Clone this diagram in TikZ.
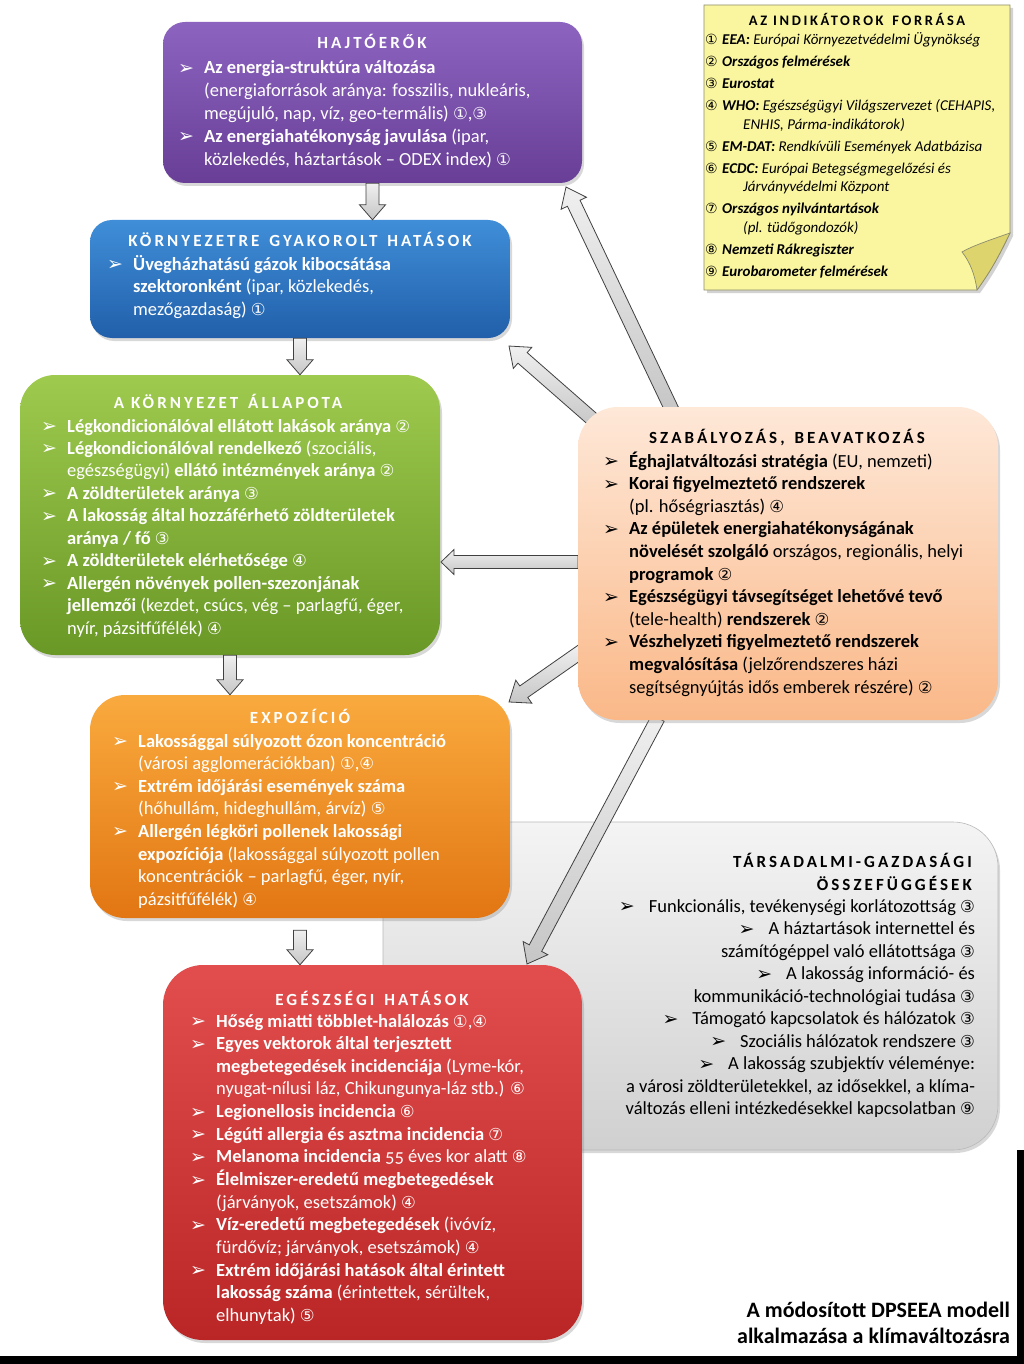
\documentclass[tikz,border=0pt]{standalone}
\usepackage{fontspec}
\usepackage{graphicx}
\setmainfont{Carlito}
\newfontfamily\dv{DejaVu Sans}
\newfontfamily\ttlfont[LetterSpace=18]{Carlito}
\usetikzlibrary{calc,shadows}

\definecolor{purT}{RGB}{140,100,192}
\definecolor{purB}{RGB}{104,62,150}
\definecolor{bluT}{RGB}{64,142,216}
\definecolor{bluB}{RGB}{33,95,170}
\definecolor{grnT}{RGB}{158,202,78}
\definecolor{grnB}{RGB}{106,152,38}
\definecolor{orgT}{RGB}{249,170,62}
\definecolor{orgB}{RGB}{226,118,18}
\definecolor{redT}{RGB}{226,78,78}
\definecolor{redB}{RGB}{186,38,38}
\definecolor{salT}{RGB}{254,232,216}
\definecolor{salB}{RGB}{250,184,136}
\definecolor{gryT}{RGB}{244,244,244}
\definecolor{gryB}{RGB}{208,208,208}
\definecolor{notefill}{RGB}{250,246,160}
\definecolor{noteflap}{RGB}{222,212,110}
\definecolor{noteedge}{RGB}{140,140,110}

\newcommand\bul{{\dv\fontsize{19}{19}\selectfont\raisebox{-0.5pt}{➢}}}
\newcommand\cn[1]{{\dv\fontsize{16.5}{16.5}\selectfont #1}}
\newcommand\cnn[1]{{\dv\fontsize{14}{14}\selectfont #1}}
\newcommand\BL[1]{\hbox{\hbox to 26pt{\bul\hss}#1}}
\newcommand\CL[1]{\hbox{\hskip26pt #1}}
\newcommand\RL[1]{\hbox to 0pt{\hss #1}}
\newcommand\NL[2]{\hbox{\hbox to 17pt{\cnn{#1}\hss}#2}}
\newcommand\NC[1]{\hbox{\hskip38pt #1}}
\newcommand\bi[1]{\textbf{\textit{#1}}}
\newcommand\wsp{\ \hskip3pt}

\newcommand\blockarrow[5]{%
  \path[blockarr] let \p1=(#1), \p2=(#2),
    \n1={atan2(\y2-\y1,\x2-\x1)}, \n2={veclen(\x2-\x1,\y2-\y1)} in
    {[shift={(\p1)}, rotate=\n1]
     (0pt,-#3pt) -- ({\n2-#5pt},-#3pt) -- ({\n2-#5pt},-#4pt) -- (\n2,0pt)
     -- ({\n2-#5pt},#4pt) -- ({\n2-#5pt},#3pt) -- (0pt,#3pt) -- cycle};
}

\tikzset{
  box/.style={rectangle, inner sep=0pt, draw=none,
    drop shadow={shadow xshift=2pt, shadow yshift=-3pt, opacity=0.3}},
  ttl/.style={anchor=base, inner sep=0pt, font=\ttlfont\bfseries\fontsize{17}{17}\selectfont},
  txt/.style={anchor=base west, inner sep=0pt, font=\fontsize{18.5}{22.7}\selectfont},
  blockarr/.style={draw=black!75, line width=0.8pt, top color=gray!12, bottom color=gray!45},
}

\begin{document}
\begin{tikzpicture}[x=1pt,y=-1pt]
\useasboundingbox (0,0) rectangle (1024,1364);
\fill[white] (0,0) rectangle (1024,1364);

% grey background box
\node[box, rounded corners=45pt, top color=gryT, bottom color=gryB, draw=gray!55, line width=0.6pt,
  minimum width=615pt, minimum height=328pt] (grey) at (690.5,986) {};

% arrows from regulation box
\coordinate (aP1) at (672,410); \coordinate (aP2) at (566,187);
\coordinate (aB1) at (598,424); \coordinate (aB2) at (509,346);
\coordinate (aG1) at (578,562); \coordinate (aG2) at (441,562);
\coordinate (aO1) at (582,651); \coordinate (aO2) at (509,702);
\coordinate (aR1) at (658,718); \coordinate (aR2) at (527,964);
\blockarrow{aP1}{aP2}{7}{14}{18}
\blockarrow{aB1}{aB2}{7}{14}{18}
\blockarrow{aG1}{aG2}{6.5}{12.5}{13}
\blockarrow{aO1}{aO2}{7}{14}{18}
\blockarrow{aR1}{aR2}{7}{14}{18}

% boxes
\node[box, rounded corners=22pt, top color=purT, bottom color=purB,
  minimum width=419pt, minimum height=161pt] (purple) at (372.5,102.5) {};
\node[box, rounded corners=22pt, top color=bluT, bottom color=bluB,
  minimum width=420pt, minimum height=118pt] (blue) at (300,279) {};
\node[box, rounded corners=35pt, top color=grnT, bottom color=grnB,
  minimum width=420pt, minimum height=280pt] (green) at (230,515) {};
\node[box, rounded corners=35pt, top color=orgT, bottom color=orgB,
  minimum width=420pt, minimum height=223pt] (orange) at (300,806.5) {};
\node[box, rounded corners=40pt, top color=redT, bottom color=redB,
  minimum width=419pt, minimum height=375pt] (red) at (372.5,1152.5) {};
\node[box, rounded corners=40pt, top color=salT, bottom color=salB,
  minimum width=420pt, minimum height=313pt] (salmon) at (788,563.5) {};

% vertical arrows
\blockarrow{purple.south}{purple.south |- blue.north}{6.5}{13}{15}
\blockarrow{blue.south}{blue.south |- green.north}{6.5}{13}{15}
\blockarrow{green.south}{green.south |- orange.north}{6.5}{13}{15}
\blockarrow{[yshift=-12pt]orange.south}{orange.south |- red.north}{6.5}{13}{15}

% note
\path[fill=notefill, draw=noteedge, line width=0.7pt,
  drop shadow={shadow xshift=3pt, shadow yshift=-3pt, opacity=0.35}]
  (704,5) -- (1010,5) -- (1010,233) .. controls (998,258) and (990,272) .. (977,290)
  -- (704,290) -- cycle;
\path[fill=noteflap, draw=noteedge, line width=0.7pt]
  (1010,233) .. controls (990,240) and (972,246) .. (962,252)
  .. controls (970,262) and (975,275) .. (977,290)
  .. controls (990,272) and (998,258) .. (1010,233) -- cycle;

% ---- texts ----
\begin{scope}[white]
\node[ttl] (purH) at (372,49) {HAJTÓERŐK};
\node[txt] (purX) at (178,74) {\vtop{\baselineskip=22.8pt
  \BL{\textbf{Az energia-struktúra változása}}
  \CL{(energiaforrások aránya: fosszilis, nukleáris,}
  \CL{megújuló, nap, víz, geo-termális) \cn{①},\cn{③}}
  \BL{\textbf{Az energiahatékonyság javulása} (ipar,}
  \CL{közlekedés, háztartások – ODEX index) \cn{①}}}};

\node[ttl] (bluH) at (300,247) {KÖRNYEZETRE\wsp GYAKOROLT\wsp HATÁSOK};
\node[txt] (bluX) at (107,270) {\vtop{\baselineskip=22.6pt
  \BL{\textbf{Üvegházhatású gázok kibocsátása}}
  \CL{\textbf{szektoronként} (ipar, közlekedés,}
  \CL{mezőgazdaság) \cn{①}}}};

\node[ttl] (grnH) at (228,408) {A KÖRNYEZET\wsp ÁLLAPOTA};
\node[txt] (grnX) at (41,432) {\vtop{\baselineskip=22.45pt
  \BL{\textbf{Légkondicionálóval ellátott lakások aránya} \cn{②}}
  \BL{\textbf{Légkondicionálóval rendelkező} (szociális,}
  \CL{egészségügyi) \textbf{ellátó intézmények aránya} \cn{②}}
  \BL{\textbf{A zöldterületek aránya} \cn{③}}
  \BL{\textbf{A lakosság által hozzáférhető zöldterületek}}
  \CL{\textbf{aránya / fő} \cn{③}}
  \BL{\textbf{A zöldterületek elérhetősége} \cn{④}}
  \BL{\textbf{Allergén növények pollen-szezonjának}}
  \CL{\textbf{jellemzői} (kezdet, csúcs, vég – parlagfű, éger,}
  \CL{nyír, pázsitfűfélék) \cn{④}}}};

\node[ttl] (orgH) at (300,723) {EXPOZÍCIÓ};
\node[txt] (orgX) at (112,747) {\vtop{\baselineskip=22.6pt
  \BL{\textbf{Lakossággal súlyozott ózon koncentráció}}
  \CL{(városi agglomerációkban) \cn{①},\cn{④}}
  \BL{\textbf{Extrém időjárási események száma}}
  \CL{(hőhullám, hideghullám, árvíz) \cn{⑤}}
  \BL{\textbf{Allergén légköri pollenek lakossági}}
  \CL{\textbf{expozíciója} (lakossággal súlyozott pollen}
  \CL{koncentrációk – parlagfű, éger, nyír,}
  \CL{pázsitfűfélék) \cn{④}}}};

\node[ttl] (redH) at (372,1005) {EGÉSZSÉGI\wsp HATÁSOK};
\node[txt] (redX) at (190,1027) {\vtop{\baselineskip=22.65pt
  \BL{\textbf{Hőség miatti többlet-halálozás} \cn{①},\cn{④}}
  \BL{\textbf{Egyes vektorok által terjesztett}}
  \CL{\textbf{megbetegedések incidenciája} (Lyme-kór,}
  \CL{nyugat-nílusi láz, Chikungunya-láz stb.) \cn{⑥}}
  \BL{\textbf{Legionellosis incidencia} \cn{⑥}}
  \BL{\textbf{Légúti allergia és asztma incidencia} \cn{⑦}}
  \BL{\textbf{Melanoma incidencia} {\addfontfeatures{Numbers=OldStyle}55} éves kor alatt \cn{⑧}}
  \BL{\textbf{Élelmiszer-eredetű megbetegedések}}
  \CL{(járványok, esetszámok) \cn{④}}
  \BL{\textbf{Víz-eredetű megbetegedések} (ivóvíz,}
  \CL{fürdővíz; járványok, esetszámok) \cn{④}}
  \BL{\textbf{Extrém időjárási hatások által érintett}}
  \CL{\textbf{lakosság száma} (érintettek, sérültek,}
  \CL{elhunytak) \cn{⑤}}}};
\end{scope}

\begin{scope}[black]
\node[ttl] (salH) at (787,443) {SZABÁLYOZÁS,\wsp BEAVATKOZÁS};
\node[txt] (salX) at (603,467) {\vtop{\baselineskip=22.6pt
  \BL{\textbf{Éghajlatváltozási stratégia} (EU, nemzeti)}
  \BL{\textbf{Korai figyelmeztető rendszerek}}
  \CL{(pl. hőségriasztás) \cn{④}}
  \BL{\textbf{Az épületek energiahatékonyságának}}
  \CL{\textbf{növelését szolgáló} országos, regionális, helyi}
  \CL{\textbf{programok} \cn{②}}
  \BL{\textbf{Egészségügyi távsegítséget lehetővé tevő}}
  \CL{(tele-health) \textbf{rendszerek} \cn{②}}
  \BL{\textbf{Vészhelyzeti figyelmeztető rendszerek}}
  \CL{\textbf{megvalósítása} (jelzőrendszeres házi}
  \CL{segítségnyújtás idős emberek részére) \cn{②}}}};

\node[ttl, anchor=base east] (gryH1) at (972,867) {TÁRSADALMI-GAZDASÁGI};
\node[ttl, anchor=base east] (gryH2) at (972,890) {ÖSSZEFÜGGÉSEK};
\node[txt, anchor=base] (gryX) at (975,912) {\vtop{\baselineskip=22.55pt
  \RL{\bul\hskip14pt Funkcionális, tevékenységi korlátozottság \cn{③}}
  \RL{\bul\hskip14pt A háztartások internettel és}
  \RL{számítógéppel való ellátottsága \cn{③}}
  \RL{\bul\hskip14pt A lakosság információ- és}
  \RL{kommunikáció-technológiai tudása \cn{③}}
  \RL{\bul\hskip14pt Támogató kapcsolatok és hálózatok \cn{③}}
  \RL{\bul\hskip14pt Szociális hálózatok rendszere \cn{③}}
  \RL{\bul\hskip14pt A lakosság szubjektív véleménye:}
  \RL{a városi zöldterületekkel, az idősekkel, a klíma-}
  \RL{változás elleni intézkedésekkel kapcsolatban \cn{⑨}}}};

\node[ttl, font=\ttlfont\bfseries\fontsize{14.5}{14.5}\selectfont] (noteH) at (857,26) {AZ INDIKÁTOROK\wsp FORRÁSA};
\node[txt, font=\fontsize{15}{18.5}\selectfont] (noteX) at (705,45) {\vtop{\baselineskip=18.5pt
  \NL{①}{\bi{EEA:} \textit{Európai Környezetvédelmi Ügynökség}}\vskip3.5pt
  \NL{②}{\bi{Országos felmérések}}\vskip3.5pt
  \NL{③}{\bi{Eurostat}}\vskip3.5pt
  \NL{④}{\bi{WHO:} \textit{Egészségügyi Világszervezet (CEHAPIS,}}
  \NC{\textit{ENHIS, Párma-indikátorok)}}\vskip3.5pt
  \NL{⑤}{\bi{EM-DAT:} \textit{Rendkívüli Események Adatbázisa}}\vskip3.5pt
  \NL{⑥}{\bi{ECDC:} \textit{Európai Betegségmegelőzési és}}
  \NC{\textit{Járványvédelmi Központ}}\vskip3.5pt
  \NL{⑦}{\bi{Országos nyilvántartások}}
  \NC{\textit{(pl. tüdőgondozók)}}\vskip3.5pt
  \NL{⑧}{\bi{Nemzeti Rákregiszter}}\vskip3.5pt
  \NL{⑨}{\bi{Eurobarometer felmérések}}}};

\node[inner sep=0pt, anchor=base, font=\bfseries\fontsize{22}{27}\selectfont] (caption) at (1010,1317)
  {\vtop{\baselineskip=26.5pt
   \hbox to 0pt{\hss A módosított DPSEEA modell}
   \hbox to 0pt{\hss alkalmazása a klímaváltozásra}}};
\end{scope}

% frame strips
\fill[black] (0,1356) rectangle (1024,1364);
\fill[black] (1017,1150) rectangle (1024,1364);
\end{tikzpicture}
\end{document}
